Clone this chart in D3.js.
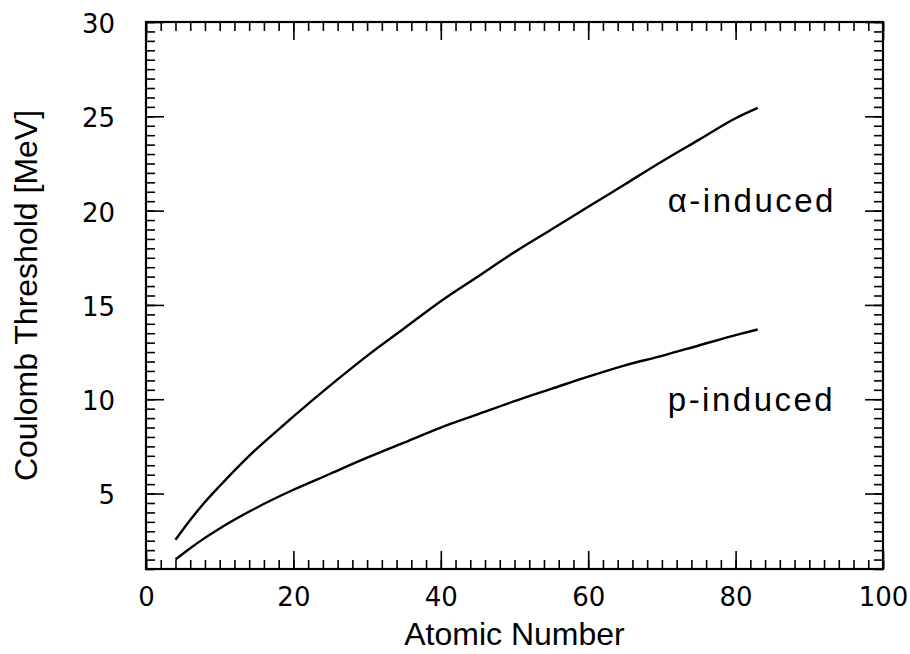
<!DOCTYPE html>
<html>
<head>
<meta charset="utf-8">
<script src="https://cdn.jsdelivr.net/npm/d3@7"></script>
<style>
    body { margin: 0; background: #fff; }
    svg { display: block; }
    .tick-label { font-family: "DejaVu Sans", sans-serif; font-size: 26px; fill: #000; }
    .axis-title { font-family: "Liberation Sans", Arial, sans-serif; font-size: 32px; fill: #000; }
    .curve-label { font-family: "Liberation Sans", Arial, sans-serif; font-size: 33px; letter-spacing: 2.5px; fill: #000; }
</style>
</head>
<body>
<svg id="chart" width="910" height="654"></svg>
<script>
// atomic number of the target nucleus
const alphaZ = [4, 6, 8, 10, 14, 18, 22, 26, 30, 35, 40, 45, 50, 55, 60, 65, 70, 75, 80, 83];
// Coulomb threshold for alpha-induced reactions [MeV]
const alphaV = [2.55, 3.6, 4.55, 5.4, 7.0, 8.4, 9.75, 11.05, 12.3, 13.75, 15.2, 16.5, 17.8, 19.0, 20.2, 21.4, 22.6, 23.75, 24.9, 25.45];

const protonZ = [4, 6, 8, 10, 15, 20, 25, 30, 35, 40, 45, 50, 55, 60, 65, 70, 75, 80, 83];
// Coulomb threshold for proton-induced reactions [MeV]
const protonV = [1.5, 2.1, 2.65, 3.15, 4.25, 5.2, 6.05, 6.9, 7.7, 8.5, 9.2, 9.9, 10.55, 11.2, 11.8, 12.3, 12.85, 13.4, 13.7];

const xMajorTicks = [0, 20, 40, 60, 80, 100];
const yMajorTicks = [5, 10, 15, 20, 25, 30];

let margin = {top: 22, right: 27, bottom: 85, left: 146},
    width = 910 - margin.left - margin.right,
    height = 654 - margin.top - margin.bottom;

let svg = d3.select("#chart");
let g = svg.append("g")
    .attr("transform", "translate(" + margin.left + "," + margin.top + ")");

let xScale = d3.scaleLinear().domain([0, 100]).range([0, width]);
let yScale = d3.scaleLinear().domain([1, 30]).range([height, 0]);

let xMinor = d3.range(0, 100.01, 2);
let yMinor = d3.range(1, 30.01, 0.5);
let minorLen = 9, majorLen = 18;

function styleAxis(sel)
{
    sel.select(".domain").remove();
    sel.selectAll(".tick line").attr("stroke", "#000").attr("stroke-width", 1.6);
}

//Minor ticks on all four sides, pointing inwards
g.append("g").attr("transform", "translate(0," + height + ")")
    .call(d3.axisBottom(xScale).tickValues(xMinor).tickSize(-minorLen).tickFormat(""))
    .call(styleAxis);
g.append("g")
    .call(d3.axisTop(xScale).tickValues(xMinor).tickSize(-minorLen).tickFormat(""))
    .call(styleAxis);
g.append("g")
    .call(d3.axisLeft(yScale).tickValues(yMinor).tickSize(-minorLen).tickFormat(""))
    .call(styleAxis);
g.append("g").attr("transform", "translate(" + width + ",0)")
    .call(d3.axisRight(yScale).tickValues(yMinor).tickSize(-minorLen).tickFormat(""))
    .call(styleAxis);

//Major ticks with labels
let xAxis = g.append("g").attr("transform", "translate(0," + height + ")")
    .call(d3.axisBottom(xScale).tickValues(xMajorTicks).tickSize(-majorLen).tickPadding(18.5).tickFormat(d3.format("d")))
    .call(styleAxis);
xAxis.selectAll("text").attr("class", "tick-label").attr("font-family", null).attr("font-size", null);

g.append("g")
    .call(d3.axisTop(xScale).tickValues(xMajorTicks).tickSize(-majorLen).tickFormat(""))
    .call(styleAxis);

let yAxis = g.append("g")
    .call(d3.axisLeft(yScale).tickValues(yMajorTicks).tickSize(-majorLen).tickPadding(31).tickFormat(d3.format("d")))
    .call(styleAxis);
yAxis.selectAll("text").attr("class", "tick-label").attr("font-family", null).attr("font-size", null)
    .attr("dy", "0.4em");

g.append("g").attr("transform", "translate(" + width + ",0)")
    .call(d3.axisRight(yScale).tickValues(yMajorTicks).tickSize(-majorLen).tickFormat(""))
    .call(styleAxis);

//Frame
g.append("rect")
    .attr("x", 0).attr("y", 0)
    .attr("width", width).attr("height", height)
    .attr("fill", "none")
    .attr("stroke", "#000")
    .attr("stroke-width", 2.2);

//Curves
let lineGraph = d3.line()
    .x(d => xScale(d[0]))
    .y(d => yScale(d[1]))
    .curve(d3.curveMonotoneX);

let series = [
    d3.zip(alphaZ, alphaV),
    d3.zip(protonZ, protonV)
];

g.selectAll(".line")
    .data(series)
    .enter().append("path")
    .attr("class", "line")
    .attr("fill", "none")
    .attr("stroke", "#000")
    .attr("stroke-width", 2.4)
    .attr("stroke-linejoin", "round")
    .attr("d", lineGraph);

//Curve labels
g.append("text")
    .attr("class", "curve-label")
    .attr("x", xScale(70.8))
    .attr("y", yScale(19.93))
    .text("\u03b1-induced");

g.append("text")
    .attr("class", "curve-label")
    .attr("x", xScale(70.8))
    .attr("y", yScale(9.4))
    .text("p-induced");

//Axis titles
svg.append("text")
    .attr("class", "axis-title")
    .attr("text-anchor", "middle")
    .attr("x", margin.left + width / 2)
    .attr("y", 645)
    .text("Atomic Number");

svg.append("text")
    .attr("class", "axis-title")
    .attr("text-anchor", "middle")
    .attr("transform", "translate(37," + (margin.top + height / 2) + ") rotate(-90)")
    .text("Coulomb Threshold [MeV]");
</script>
</body>
</html>
